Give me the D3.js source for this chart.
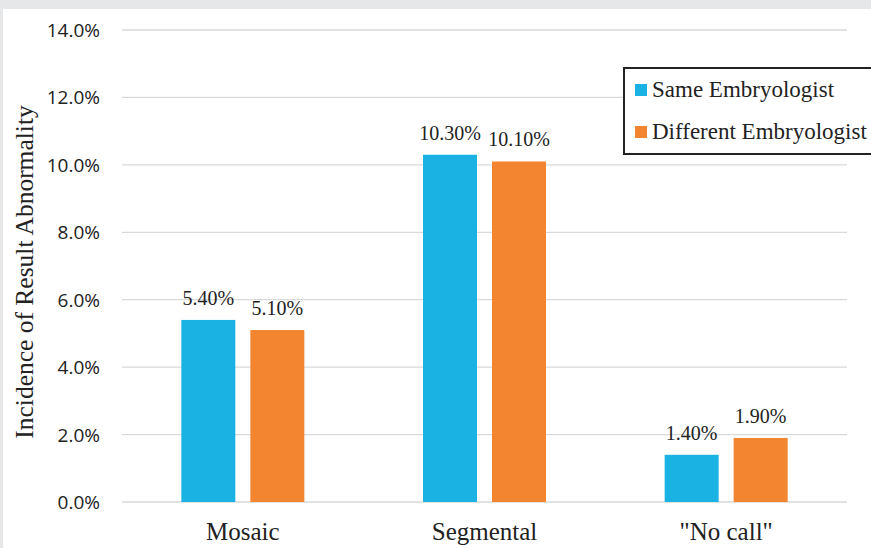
<!DOCTYPE html>
<html><head><meta charset="utf-8">
<script src="https://cdn.jsdelivr.net/npm/d3@7"></script>
<style>body{margin:0;background:#e6e7e9;}svg{display:block;}</style>
</head><body>
<script>
const categories = ["Mosaic", "Segmental", "\"No call\""];
const seriesNames = ["Same Embryologist", "Different Embryologist"];
const sameValues = [5.4, 10.3, 1.4];
const differentValues = [5.1, 10.1, 1.9];
const yTicks = [0, 2, 4, 6, 8, 10, 12, 14];
const colors = ["#19b2e2", "#f38430"];

(function () {
const W = 871, H = 548;
const serif = "'Liberation Serif', 'Times New Roman', serif";
const sans = "'Open Sans', 'Liberation Sans', sans-serif";
const svg = d3.select("body").append("svg").attr("width", W).attr("height", H);
svg.append("rect").attr("x", 3).attr("y", 9).attr("width", W - 3).attr("height", H - 9).attr("fill", "#fff");

const pLeft = 122, pRight = 847, pTop = 30, pBottom = 502;
const x = d3.scaleBand().domain(categories).range([pLeft, pRight]);
const y = d3.scaleLinear().domain([0, 14]).range([pBottom, pTop]);

const g = svg.append("g");
g.selectAll("line.grid").data(yTicks).join("line")
  .attr("x1", pLeft).attr("x2", pRight)
  .attr("y1", d => y(d)).attr("y2", d => y(d))
  .attr("stroke", "#d9d9d9").attr("stroke-width", 1.3);

g.selectAll("text.tick").data(yTicks).join("text")
  .attr("x", 100).attr("y", d => y(d) + 7)
  .attr("text-anchor", "end")
  .style("font-family", sans)
  .style("font-size", "19px").attr("fill", "#222")
  .text(d => d.toFixed(1) + "%");

const barW = 54, gap = 15;
const data = [];
categories.forEach((c, i) => {
  data.push({c, s: 0, v: sameValues[i]});
  data.push({c, s: 1, v: differentValues[i]});
});
const cx = c => x(c) + x.bandwidth() / 2;
const bx = d => cx(d.c) - (barW + gap / 2) + d.s * (barW + gap);

g.selectAll("rect.bar").data(data).join("rect")
  .attr("x", bx).attr("width", barW)
  .attr("y", d => y(d.v)).attr("height", d => y(0) - y(d.v))
  .attr("fill", d => colors[d.s]);

g.selectAll("text.val").data(data).join("text")
  .attr("x", d => bx(d) + barW / 2).attr("y", d => y(d.v) - 15)
  .attr("text-anchor", "middle")
  .style("font-family", serif)
  .style("font-size", "20px").attr("fill", "#222")
  .text(d => d.v.toFixed(2) + "%");

g.selectAll("text.cat").data(categories).join("text")
  .attr("x", cx).attr("y", 540)
  .attr("text-anchor", "middle")
  .style("font-family", serif)
  .style("font-size", "25px").attr("fill", "#222")
  .text(d => d);

svg.append("text")
  .attr("transform", `translate(33,272) rotate(-90)`)
  .attr("text-anchor", "middle")
  .style("font-family", serif)
  .style("font-size", "25.5px").attr("fill", "#222")
  .text("Incidence of Result Abnormality");

const lg = svg.append("g");
lg.append("rect").attr("x", 624).attr("y", 68).attr("width", 250).attr("height", 86)
  .attr("fill", "#fff").attr("stroke", "#222").attr("stroke-width", 2);
seriesNames.forEach((n, i) => {
  const yy = 84 + i * 42;
  lg.append("rect").attr("x", 635).attr("y", yy).attr("width", 12).attr("height", 12).attr("fill", colors[i]);
  lg.append("text").attr("x", 652).attr("y", yy + 13)
    .style("font-family", serif)
    .style("font-size", "23px").attr("fill", "#222").text(n);
});
})();
</script>
</body></html>
